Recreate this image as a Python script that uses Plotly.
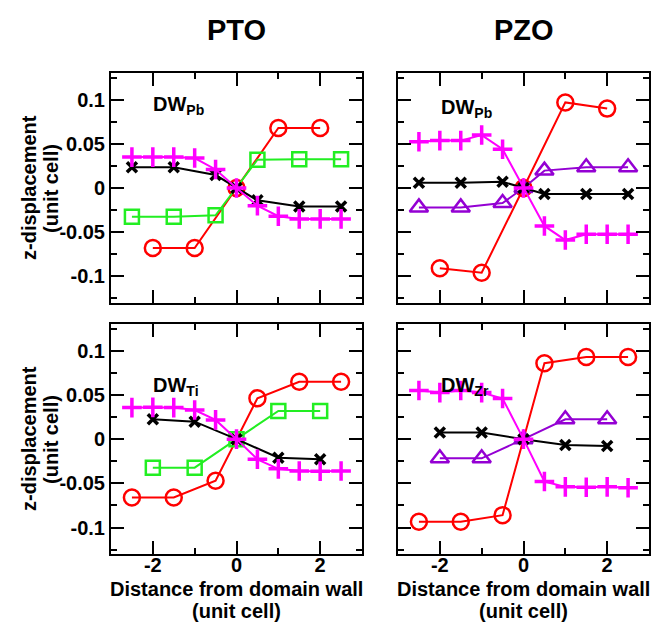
import plotly.graph_objects as go

# ---------------- data ----------------
# Panel 1: PTO, DW_Pb
pto_pb_red_x = [-2, -1, 0, 1, 2]
pto_pb_red_y = [-0.068, -0.068, 0.0, 0.068, 0.068]
pto_pb_green_x = [-2.5, -1.5, -0.5, 0.5, 1.5, 2.5]
pto_pb_green_y = [-0.0325, -0.0325, -0.031, 0.032, 0.0325, 0.0325]
pto_pb_black_x = [-2.5, -1.5, -0.5, 0, 0.5, 1.5, 2.5]
pto_pb_black_y = [0.0235, 0.0235, 0.0147, 0.0, -0.0140, -0.021, -0.021]
pto_pb_mag_x = [-2.5, -2, -1.5, -1, -0.5, 0, 0.5, 1, 1.5, 2, 2.5]
pto_pb_mag_y = [0.035, 0.035, 0.035, 0.034, 0.021, 0.0, -0.020, -0.032, -0.035, -0.035, -0.035]

# Panel 2: PZO, DW_Pb
pzo_pb_red_x = [-2, -1, 0, 1, 2]
pzo_pb_red_y = [-0.091, -0.096, 0.0, 0.097, 0.090]
pzo_pb_purple_x = [-2.5, -1.5, -0.5, 0, 0.5, 1.5, 2.5]
pzo_pb_purple_y = [-0.022, -0.022, -0.017, 0.0, 0.0197, 0.0235, 0.0235]
pzo_pb_black_x = [-2.5, -1.5, -0.5, 0, 0.5, 1.5, 2.5]
pzo_pb_black_y = [0.006, 0.006, 0.007, 0.0, -0.0068, -0.0068, -0.0068]
pzo_pb_mag_x = [-2.5, -2, -1.5, -1, -0.5, 0, 0.5, 1, 1.5, 2, 2.5]
pzo_pb_mag_y = [0.0525, 0.0537, 0.0537, 0.060, 0.044, 0.0, -0.043, -0.059, -0.0525, -0.0525, -0.0525]

# Panel 3: PTO, DW_Ti
pto_ti_red_x = [-2.5, -1.5, -0.5, 0.5, 1.5, 2.5]
pto_ti_red_y = [-0.066, -0.066, -0.047, 0.0463, 0.065, 0.065]
pto_ti_green_x = [-2, -1, 0, 1, 2]
pto_ti_green_y = [-0.0323, -0.0323, 0.0, 0.032, 0.032]
pto_ti_black_x = [-2, -1, 0, 1, 2]
pto_ti_black_y = [0.0225, 0.0198, 0.0, -0.021, -0.0228]
pto_ti_mag_x = [-2.5, -2, -1.5, -1, -0.5, 0, 0.5, 1, 1.5, 2, 2.5]
pto_ti_mag_y = [0.0357, 0.036, 0.0357, 0.033, 0.0218, 0.0, -0.0228, -0.0336, -0.036, -0.0364, -0.036]

# Panel 4: PZO, DW_Zr
pzo_zr_red_x = [-2.5, -1.5, -0.5, 0.5, 1.5, 2.5]
pzo_zr_red_y = [-0.0935, -0.0935, -0.086, 0.086, 0.093, 0.093]
pzo_zr_purple_x = [-2, -1, 0, 1, 2]
pzo_zr_purple_y = [-0.0217, -0.0217, 0.0, 0.0225, 0.0225]
pzo_zr_black_x = [-2, -1, 0, 1, 2]
pzo_zr_black_y = [0.0074, 0.0074, 0.0, -0.0066, -0.0077]
pzo_zr_mag_x = [-2.5, -2, -1.5, -1, -0.5, 0, 0.5, 1, 1.5, 2, 2.5]
pzo_zr_mag_y = [0.055, 0.0527, 0.055, 0.0527, 0.046, 0.0, -0.048, -0.054, -0.0545, -0.054, -0.055]

y_tick_vals = [-0.1, -0.05, 0, 0.05, 0.1]
y_tick_text = ["-0.1", "-0.05", "0", "0.05", "0.1"]
x_tick_vals = [-2, 0, 2]
x_tick_text = ["-2", "0", "2"]

column_titles = ["PTO", "PZO"]
panel_labels = ["DW<sub>Pb</sub>", "DW<sub>Pb</sub>", "DW<sub>Ti</sub>", "DW<sub>Zr</sub>"]
y_title_lines = ["z-displacement", "(unit cell)"]
x_title_lines = ["Distance from domain wall", "(unit cell)"]

# ---------------- styles ----------------
FONT = "Liberation Sans, Arial, Helvetica, sans-serif"
RED = "#ff0000"
GREEN = "#22ee22"
BLACK = "#000000"
MAG = "#ff00ff"
PURPLE = "#9400d3"

def series(x, y, color, symbol, size, lw_marker, axis_idx):
    suffix = "" if axis_idx == 1 else str(axis_idx)
    return go.Scatter(
        x=x, y=y, mode="lines+markers",
        line=dict(color=color, width=2),
        marker=dict(symbol=symbol, size=size, color=color,
                    line=dict(color=color, width=lw_marker)),
        xaxis="x" + suffix, yaxis="y" + suffix,
        showlegend=False, cliponaxis=False,
    )

def red(x, y, i):
    return series(x, y, RED, "circle-open", 16, 2.5, i)

def green(x, y, i):
    return series(x, y, GREEN, "square-open", 14, 2.5, i)

def purple(x, y, i):
    return series(x, y, PURPLE, "triangle-up-open", 16, 2.5, i)

def black(x, y, i):
    return series(x, y, BLACK, "x-thin", 10, 3.5, i)

def mag(x, y, i):
    return series(x, y, MAG, "cross-thin", 14, 3.5, i)

traces = [
    red(pto_pb_red_x, pto_pb_red_y, 1),
    green(pto_pb_green_x, pto_pb_green_y, 1),
    black(pto_pb_black_x, pto_pb_black_y, 1),
    mag(pto_pb_mag_x, pto_pb_mag_y, 1),

    red(pzo_pb_red_x, pzo_pb_red_y, 2),
    purple(pzo_pb_purple_x, pzo_pb_purple_y, 2),
    black(pzo_pb_black_x, pzo_pb_black_y, 2),
    mag(pzo_pb_mag_x, pzo_pb_mag_y, 2),

    red(pto_ti_red_x, pto_ti_red_y, 3),
    green(pto_ti_green_x, pto_ti_green_y, 3),
    black(pto_ti_black_x, pto_ti_black_y, 3),
    mag(pto_ti_mag_x, pto_ti_mag_y, 3),

    red(pzo_zr_red_x, pzo_zr_red_y, 4),
    purple(pzo_zr_purple_x, pzo_zr_purple_y, 4),
    black(pzo_zr_black_x, pzo_zr_black_y, 4),
    mag(pzo_zr_mag_x, pzo_zr_mag_y, 4),
]

fig = go.Figure(data=traces)

W, H = 651, 626
xdom_left = [111 / W, 362 / W]
xdom_right = [398 / W, 649 / W]
ydom_top = [1 - 302.7 / H, 1 - 73.3 / H]
ydom_bot = [1 - 554 / H, 1 - 324.3 / H]

tickfont = dict(family=FONT, size=20, color="black", weight="bold")

def xaxis(domain, anchor, show_labels):
    return dict(
        domain=domain, anchor=anchor, range=[-3, 3],
        showline=True, linewidth=2, linecolor="black", mirror="allticks",
        ticks="inside", ticklen=13, tickwidth=2, tickcolor="black",
        tickmode="array", tickvals=x_tick_vals, ticktext=x_tick_text,
        showticklabels=show_labels, tickfont=tickfont, ticklabelstandoff=-8,
        minor=dict(dtick=1, tick0=0, ticks="inside", ticklen=6, tickwidth=2,
                   tickcolor="black", showgrid=False),
        showgrid=False, zeroline=False, fixedrange=True,
    )

def yaxis(domain, anchor, show_labels):
    return dict(
        domain=domain, anchor=anchor, range=[-0.13, 0.13],
        showline=True, linewidth=2, linecolor="black", mirror="allticks",
        ticks="inside", ticklen=13, tickwidth=2, tickcolor="black",
        tickmode="array", tickvals=y_tick_vals, ticktext=y_tick_text,
        showticklabels=show_labels, tickfont=tickfont,
        minor=dict(dtick=0.025, tick0=0, ticks="inside", ticklen=6, tickwidth=2,
                   tickcolor="black", showgrid=False),
        showgrid=False, zeroline=False, fixedrange=True,
    )

def ann(text, px, py, size, xanchor="center", angle=0):
    return dict(text=text, x=px / W, y=1 - py / H, xref="paper", yref="paper",
                showarrow=False, xanchor=xanchor, yanchor="middle", textangle=angle,
                font=dict(family=FONT, size=size, color="black", weight="bold"))

annotations = []
# column titles
for txt, xc in zip(column_titles, [236, 523.5]):
    annotations.append(ann(txt, xc, 30, 29))
# panel labels
label_pos = [(151, 106), (439, 108), (151, 386), (439, 386)]
for txt, (px, py) in zip(panel_labels, label_pos):
    annotations.append(ann(txt, px, py, 20, xanchor="left"))
# y titles (two lines each)
for yc in [188, 439]:
    annotations.append(ann(y_title_lines[0], 29, yc, 20, angle=-90))
    annotations.append(ann(y_title_lines[1], 51, yc, 20, angle=-90))
# x titles (two lines each)
for xc in [236, 523.5]:
    annotations.append(ann(x_title_lines[0], xc, 589, 20))
    annotations.append(ann(x_title_lines[1], xc, 611, 20))

fig.update_layout(
    width=W, height=H,
    margin=dict(l=0, r=0, t=0, b=0),
    paper_bgcolor="white", plot_bgcolor="white",
    font=dict(family=FONT, color="black"),
    xaxis=xaxis(xdom_left, "y", False),
    yaxis=yaxis(ydom_top, "x", True),
    xaxis2=xaxis(xdom_right, "y2", False),
    yaxis2=yaxis(ydom_top, "x2", False),
    xaxis3=xaxis(xdom_left, "y3", True),
    yaxis3=yaxis(ydom_bot, "x3", True),
    xaxis4=xaxis(xdom_right, "y4", True),
    yaxis4=yaxis(ydom_bot, "x4", False),
    annotations=annotations,
)

fig.write_html(
    "out.html",
    config={"displayModeBar": False},
    post_script="document.body.style.margin='0';document.body.style.padding='0';document.body.style.overflow='hidden';",
)
